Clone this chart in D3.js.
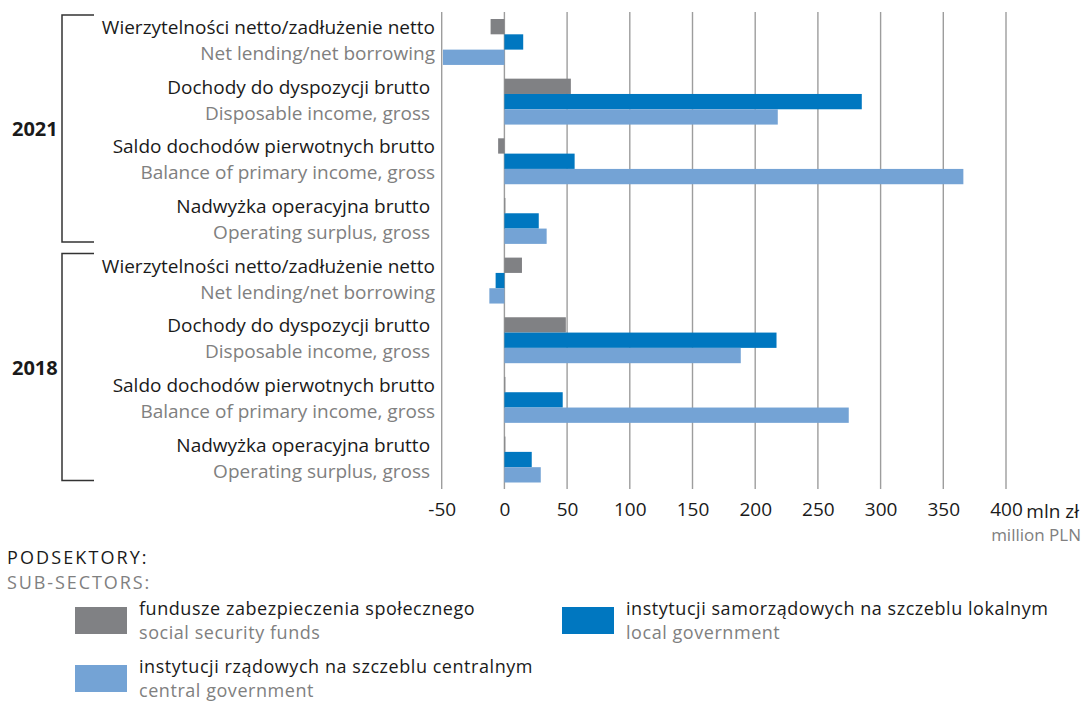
<!DOCTYPE html>
<html>
<head>
<meta charset="utf-8">
<script src="https://cdn.jsdelivr.net/npm/d3@7"></script>
<style>
  body { margin: 0; background: #fff; }
  svg { display: block; font-family: 'Open Sans', Lato, sans-serif; }
  text { white-space: pre; }
</style>
</head>
<body>
<div id="chart"></div>
<script>
// Data
const years = ['2021', '2018']
const itemsPl = [
    'Wierzytelności netto/zadłużenie netto',
    'Dochody do dyspozycji brutto ',
    'Saldo dochodów pierwotnych brutto',
    'Nadwyżka operacyjna brutto '
]
const itemsEn = [
    'Net lending/net borrowing',
    'Disposable income, gross ',
    'Balance of primary income, gross',
    'Operating surplus, gross '
]
const seriesKeys = ['social', 'local', 'central']
const seriesPl = ['fundusze zabezpieczenia społecznego', 'instytucji samorządowych na szczeblu lokalnym', 'instytucji rządowych na szczeblu centralnym']
const seriesEn = ['social security funds', 'local government', 'central government']

// values in the order of itemsPl, mln zł
const social2021 = [-11, 53, -5, 0.8]
const local2021 = [15, 285, 56, 27.4]
const central2021 = [-49, 218, 366, 33.7]
const social2018 = [14, 49, 0.5, 0.5]
const local2018 = [-7, 217, 46.5, 21.8]
const central2018 = [-12, 188.5, 274.6, 29]

const xTicks = [-50, 0, 50, 100, 150, 200, 250, 300, 350, 400]

const byYear = {
    '2021': { social: social2021, local: local2021, central: central2021 },
    '2018': { social: social2018, local: local2018, central: central2018 }
}
const rows = []
years.forEach(year => itemsPl.forEach((pl, i) => rows.push({
    id: `${year}-${i}`, year, pl, en: itemsEn[i],
    values: seriesKeys.map(k => ({ key: k, value: byYear[year][k][i] }))
})))

const palette = { social: '#808184', local: '#0077c0', central: '#74a3d5' }
const dark = '#1a1a1a', grey = '#808080'
const fs = 19

// SVG
const width = 1083, height = 703
const svg = d3.select('#chart').append('svg')
    .attr('width', width)
    .attr('height', height)

// Scales
const x = d3.scaleLinear().domain([-50, 400]).range([441.7, 1006])
const y = d3.scaleBand().domain(rows.map(r => r.id)).range([19, 482.5]).paddingInner(0.23)
const ySub = d3.scaleBand().domain(seriesKeys).range([0, y.bandwidth()])

// Grid
svg.append('g').selectAll('line')
    .data(xTicks)
    .join('line')
    .attr('x1', d => x(d)).attr('x2', d => x(d))
    .attr('y1', 12).attr('y2', 489)
    .attr('stroke', '#9d9d9d')
    .attr('stroke-width', 1.4)

// Bars
const groups = svg.append('g').selectAll('g')
    .data(rows)
    .join('g')
    .attr('transform', d => `translate(0,${y(d.id)})`)

groups.selectAll('rect')
    .data(d => d.values)
    .join('rect')
    .attr('x', d => x(Math.min(0, d.value)))
    .attr('width', d => Math.max(1, Math.abs(x(d.value) - x(0))))
    .attr('y', d => ySub(d.key))
    .attr('height', ySub.bandwidth())
    .attr('fill', d => palette[d.key])

// Category labels
groups.append('text')
    .attr('x', 435).attr('y', 15)
    .attr('text-anchor', 'end')
    .attr('font-size', fs)
    .attr('fill', dark)
    .text(d => d.pl)
groups.append('text')
    .attr('x', 435).attr('y', 41)
    .attr('text-anchor', 'end')
    .attr('font-size', fs)
    .attr('fill', grey)
    .text(d => d.en)

// Year brackets
years.forEach(year => {
    const ids = rows.filter(r => r.year === year).map(r => r.id)
    const top = y(ids[0]) - 4
    const bottom = y(ids[ids.length - 1]) + y.bandwidth() - 2
    svg.append('path')
        .attr('d', `M94,${top}H62V${bottom}H94`)
        .attr('fill', 'none')
        .attr('stroke', '#333')
        .attr('stroke-width', 1.5)
    svg.append('text')
        .attr('x', 12).attr('y', (top + bottom) / 2 + 8)
        .attr('font-size', 20)
        .attr('font-weight', 'bold')
        .attr('fill', dark)
        .text(year)
})

// Axis
const axis = svg.append('g')
    .attr('transform', 'translate(0,489)')
    .call(d3.axisBottom(x).tickValues(xTicks).tickSize(0).tickPadding(14).tickFormat(String))
axis.select('.domain').remove()
axis.selectAll('text')
    .attr('font-size', fs)
    .attr('font-family', "'Open Sans', sans-serif")
    .attr('fill', dark)
const lastTick = axis.selectAll('.tick').filter(d => d === 400).select('text')
const lastW = lastTick.node().getComputedTextLength()
svg.append('text')
    .attr('x', x(400) + lastW / 2 + 4).attr('y', 518)
    .attr('font-size', fs)
    .attr('fill', dark)
    .text('mln zł')
svg.append('text')
    .attr('x', 1081).attr('y', 541)
    .attr('text-anchor', 'end')
    .attr('font-size', 17)
    .attr('fill', grey)
    .text('million PLN')

// Legend
svg.append('text').attr('x', 7).attr('y', 564).attr('font-size', 18).attr('letter-spacing', 2.1)
    .attr('fill', dark).text('PODSEKTORY:')
svg.append('text').attr('x', 7).attr('y', 589).attr('font-size', 18).attr('letter-spacing', 1.9)
    .attr('fill', grey).text('SUB-SECTORS:')

const legendPos = { social: [75, 606], local: [562, 606], central: [75, 664] }
const legend = svg.append('g').selectAll('g')
    .data(seriesKeys)
    .join('g')
    .attr('transform', k => `translate(${legendPos[k][0]},${legendPos[k][1]})`)
legend.append('rect')
    .attr('y', 1)
    .attr('width', 52).attr('height', 27)
    .attr('fill', k => palette[k])
legend.append('text')
    .attr('x', 64).attr('y', 9)
    .attr('font-size', 18)
    .attr('letter-spacing', 0.55)
    .attr('fill', dark)
    .text(k => seriesPl[seriesKeys.indexOf(k)])
legend.append('text')
    .attr('x', 64).attr('y', 33)
    .attr('font-size', 18)
    .attr('letter-spacing', 0.55)
    .attr('fill', grey)
    .text(k => seriesEn[seriesKeys.indexOf(k)])
</script>
</body>
</html>
